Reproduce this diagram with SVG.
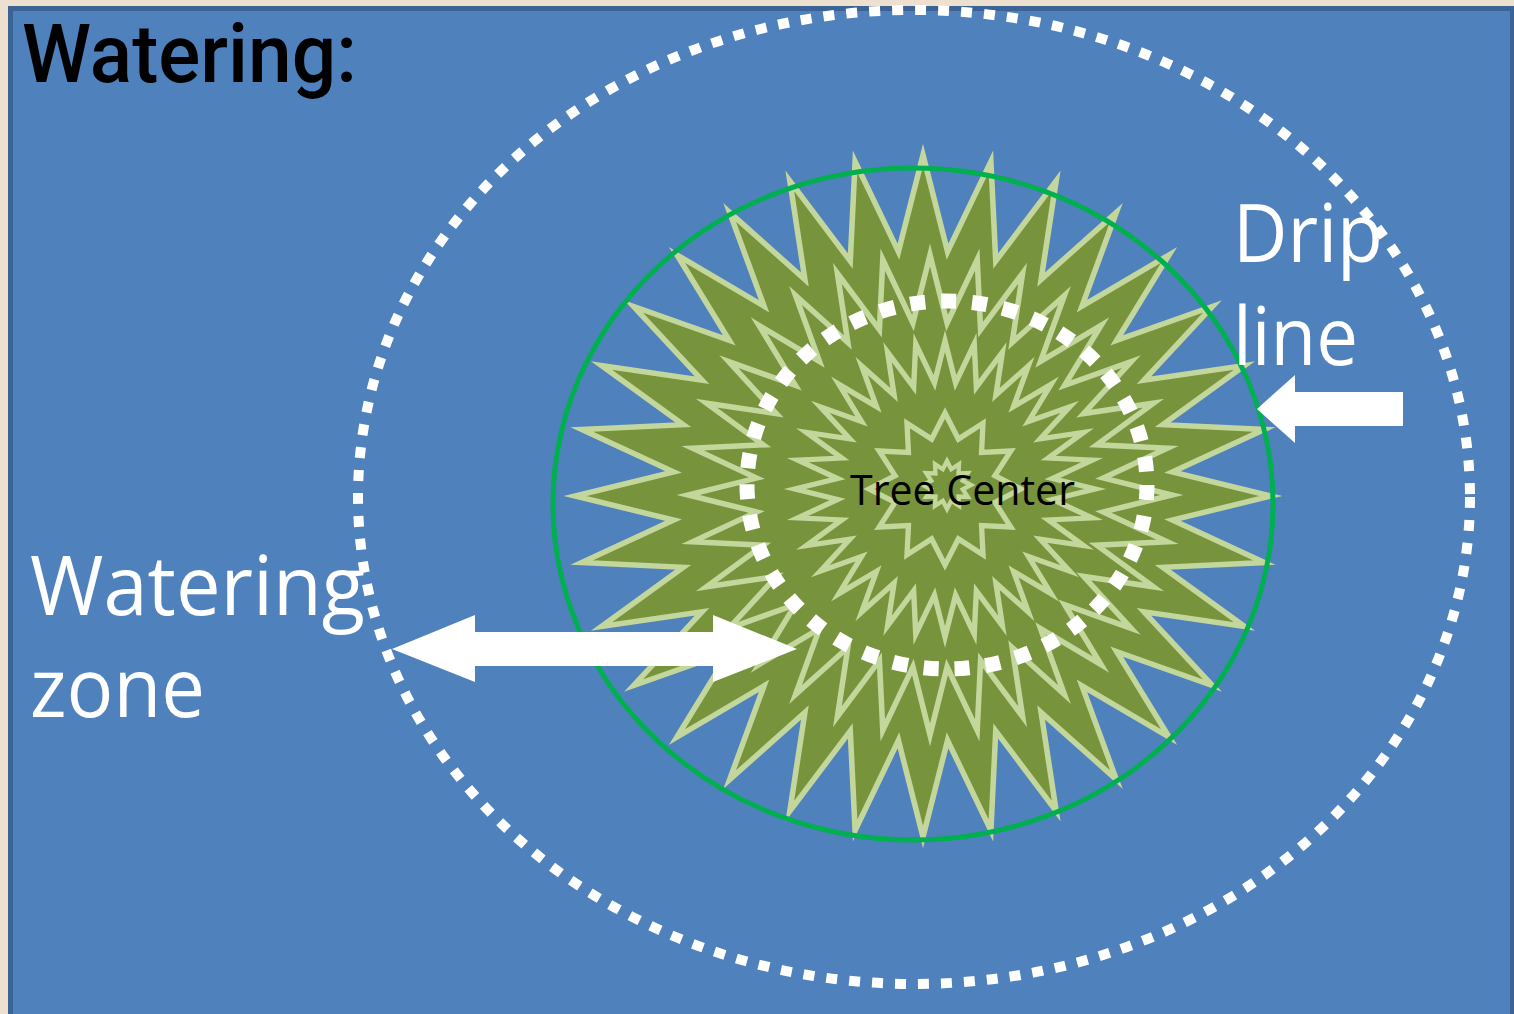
<svg xmlns="http://www.w3.org/2000/svg" xmlns:xlink="http://www.w3.org/1999/xlink" width="1514" height="1014" viewBox="0 0 1514 1014">
  <style>
    .leaf { fill: #77933c; stroke: #c3d69b; stroke-linejoin: miter; stroke-miterlimit: 10; }
    .dots-outer { fill: none; stroke: #ffffff; stroke-width: 10; stroke-dasharray: 11 12; }
    .dots-inner { fill: none; stroke: #ffffff; stroke-width: 15; stroke-dasharray: 15 16; }
    .drip { fill: none; stroke: #00b050; stroke-width: 5; }
    .label { fill: #ffffff; font-family: "Open Sans", "Noto Sans", sans-serif; }
    .arrow { fill: #ffffff; }
  </style>
  <defs>
    <!-- 32-point star, tip radius 100, valley radius 72 -->
    <polygon id="star32" class="leaf" points="0,-100 7.06,-71.65 19.51,-98.08 20.9,-68.9 38.27,-92.39 33.94,-63.5 55.56,-83.15 45.68,-55.66 70.71,-70.71 55.66,-45.68 83.15,-55.56 63.5,-33.94 92.39,-38.27 68.9,-20.9 98.08,-19.51 71.65,-7.06 100,0 71.65,7.06 98.08,19.51 68.9,20.9 92.39,38.27 63.5,33.94 83.15,55.56 55.66,45.68 70.71,70.71 45.68,55.66 55.56,83.15 33.94,63.5 38.27,92.39 20.9,68.9 19.51,98.08 7.06,71.65 0,100 -7.06,71.65 -19.51,98.08 -20.9,68.9 -38.27,92.39 -33.94,63.5 -55.56,83.15 -45.68,55.66 -70.71,70.71 -55.66,45.68 -83.15,55.56 -63.5,33.94 -92.39,38.27 -68.9,20.9 -98.08,19.51 -71.65,7.06 -100,0 -71.65,-7.06 -98.08,-19.51 -68.9,-20.9 -92.39,-38.27 -63.5,-33.94 -83.15,-55.56 -55.66,-45.68 -70.71,-70.71 -45.68,-55.66 -55.56,-83.15 -33.94,-63.5 -38.27,-92.39 -20.9,-68.9 -19.51,-98.08 -7.06,-71.65"/>
    <!-- 12-point star, tip radius 100, valley radius 68 -->
    <polygon id="star12" class="leaf" points="0,-100 17.6,-65.68 50,-86.6 48.08,-48.08 86.6,-50 65.68,-17.6 100,0 65.68,17.6 86.6,50 48.08,48.08 50,86.6 17.6,65.68 0,100 -17.6,65.68 -50,86.6 -48.08,48.08 -86.6,50 -65.68,17.6 -100,0 -65.68,-17.6 -86.6,-50 -48.08,-48.08 -50,-86.6 -17.6,-65.68"/>
  </defs>

  <!-- page and panel -->
  <rect x="0" y="0" width="1514" height="1014" fill="#eee0cf"/>
  <rect x="10.5" y="8.5" width="1502" height="1012" fill="#4f81bd" stroke="#3b6396" stroke-width="5"/>

  <!-- outer dotted ring -->
  <g id="watering-limit">
    <ellipse class="dots-outer" cx="914" cy="497" rx="556" ry="487"/>
  </g>

  <!-- canopy layers -->
  <g id="canopy">
    <use xlink:href="#star32" stroke-width="1.6" transform="translate(923 496) scale(3.48 3.41)"/>
    <use xlink:href="#star32" stroke-width="2.3" transform="translate(930 495) scale(2.42 2.4)"/>
    <use xlink:href="#star32" stroke-width="3.6" transform="translate(945 489) scale(1.5 1.48)"/>
    <use xlink:href="#star12" stroke-width="7" transform="translate(945 489) scale(0.76 0.76)"/>
    <use xlink:href="#star12" stroke-width="18" transform="translate(947 485) scale(0.24 0.24)"/>
  </g>

  <!-- drip line ring -->
  <g id="drip-line">
    <ellipse class="drip" cx="913" cy="504" rx="360" ry="336"/>
  </g>

  <!-- trunk zone ring -->
  <g id="trunk-zone">
    <ellipse class="dots-inner" cx="947" cy="485" rx="200" ry="184"/>
  </g>

  <!-- arrows -->
  <g id="connectors">
    <polygon class="arrow" points="1257,409 1295,375 1295,392 1403,392 1403,426 1295,426 1295,443"/>
    <polygon class="arrow" points="392,649 475,615 475,632 713,632 713,615 797,649 713,682 713,666 475,666 475,682"/>
  </g>

  <!-- labels -->
  <g id="title">
    <text x="22" y="82" font-family="Roboto, Liberation Sans, sans-serif" font-weight="500" font-size="82" fill="#000000" textLength="335" lengthAdjust="spacingAndGlyphs">Watering:</text>
  </g>
  <g id="label-drip">
    <text class="label" x="1233" y="262" font-size="80" textLength="150" lengthAdjust="spacingAndGlyphs">Drip</text>
    <text class="label" x="1233" y="365" font-size="80" textLength="125" lengthAdjust="spacingAndGlyphs">line</text>
  </g>
  <g id="label-zone">
    <text class="label" x="30" y="615" font-size="82" textLength="335" lengthAdjust="spacingAndGlyphs">Watering</text>
    <text class="label" x="30" y="717" font-size="82" textLength="175" lengthAdjust="spacingAndGlyphs">zone</text>
  </g>
  <g id="label-center">
    <text x="850" y="505" font-family="Open Sans, Noto Sans, sans-serif" font-size="42" fill="#000000" textLength="225" lengthAdjust="spacingAndGlyphs">Tree Center</text>
  </g>
</svg>
